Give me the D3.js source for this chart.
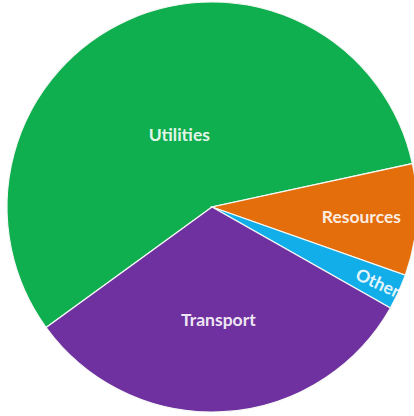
<!DOCTYPE html>
<html>
<head>
<meta charset="utf-8">
<script src="https://cdn.jsdelivr.net/npm/d3@7/dist/d3.min.js"></script>
<style>
  html, body { margin: 0; padding: 0; background: #ffffff; }
  svg { display: block; }
</style>
</head>
<body>
<div id="chart"></div>
<script>
// Sector shares (%)
const categories = ["Utilities", "Resources", "Other", "Transport"];
const values = [56.6, 8.8, 2.8, 31.8];
const colors = ["#0fae4e", "#e46d0c", "#12aeea", "#7031a0"];

const width = 414, height = 416;
const cx = 212, cy = 207, radius = 205;
// where each label sits, as a fraction of the radius along the slice's mid angle
const labelRadius = [0.39, 0.73, 0.89, 0.55];

const data = categories.map((c, i) => ({ name: c, value: values[i], color: colors[i], lr: labelRadius[i] }));

const svg = d3.select("#chart").append("svg")
  .attr("width", width)
  .attr("height", height);

svg.append("defs").append("clipPath")
  .attr("id", "pie-clip")
  .append("circle")
  .attr("cx", cx).attr("cy", cy).attr("r", radius);

const start = 234 * Math.PI / 180;
const pie = d3.pie()
  .sort(null)
  .value(d => d.value)
  .startAngle(start)
  .endAngle(start + 2 * Math.PI);

const arc = d3.arc().innerRadius(0).outerRadius(radius);
const arcs = pie(data);

const g = svg.append("g").attr("transform", `translate(${cx},${cy})`);

g.selectAll("path.slice")
  .data(arcs)
  .join("path")
  .attr("class", "slice")
  .attr("d", arc)
  .attr("fill", d => d.data.color)
  .attr("stroke", "#f4f8f4")
  .attr("stroke-width", 1.2);

const labels = svg.append("g")
  .attr("clip-path", "url(#pie-clip)")
  .append("g")
  .attr("transform", `translate(${cx},${cy})`);

labels.selectAll("text")
  .data(arcs)
  .join("text")
  .attr("transform", d => {
    const mid = (d.startAngle + d.endAngle) / 2;
    const r = radius * d.data.lr;
    const x = r * Math.sin(mid), y = -r * Math.cos(mid);
    // the thin slice's label follows the slice direction
    const rot = d.data.name === "Other" ? (mid * 180 / Math.PI - 90) : 0;
    return `translate(${x},${y}) rotate(${rot})`;
  })
  .attr("text-anchor", "middle")
  .attr("dominant-baseline", "central")
  .attr("font-family", "Lato, 'Open Sans', sans-serif")
  .attr("font-weight", "bold")
  .attr("font-size", 17.5)
  .attr("fill", "#ffffff")
  .attr("fill-opacity", 0.9)
  .text(d => d.data.name);
</script>
</body>
</html>
